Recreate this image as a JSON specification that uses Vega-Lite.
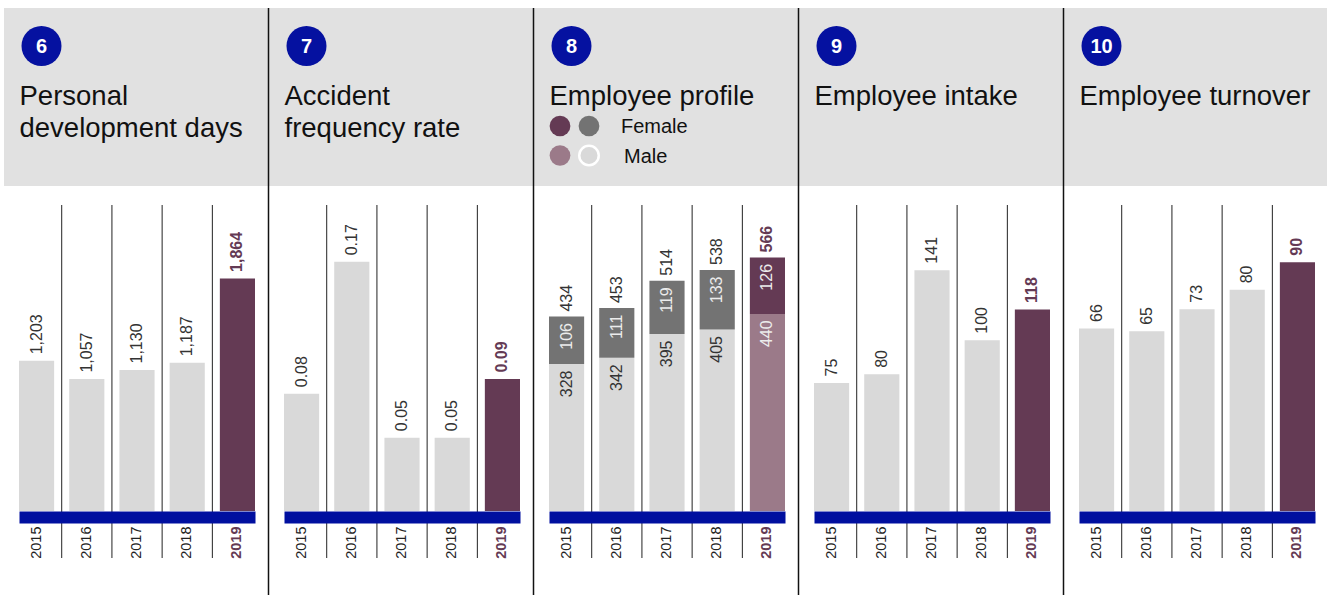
{
  "$schema": "https://vega.github.io/schema/vega-lite/v6.json",
  "background": "white",
  "padding": {"left": 3, "top": 0, "right": 0, "bottom": 0},
  "spacing": 0,
  "bounds": "flush",
  "config": {"view": {"stroke": null}, "font": "Liberation Sans", "text": {"font": "Liberation Sans"}},
  "hconcat": [
    {
      "width": 265, "height": 517,
      "resolve": {"axis": {"x": "independent"}},
      "data": {"values": [
        {"year": "2015", "value": 1203}, {"year": "2016", "value": 1057}, {"year": "2017", "value": 1130}, {"year": "2018", "value": 1187}, {"year": "2019", "value": 1864}
      ]},
      "layer": [
        {"data": {"values": [{}]}, "mark": {"type": "rect", "color": "#e1e1e1"}, "encoding": {"x": {"value": 1}, "x2": {"value": 265}, "y": {"value": 8}, "y2": {"value": 186}}},
        {"data": {"values": [{}]}, "mark": {"type": "point", "shape": "circle", "filled": true, "opacity": 1, "color": "#0511a0", "size": 1600, "strokeWidth": 0}, "encoding": {"x": {"value": 38.5}, "y": {"value": 46}}},
        {"data": {"values": [{}]}, "mark": {"type": "text", "color": "white", "fontSize": 20, "fontWeight": "bold", "align": "center", "baseline": "middle"}, "encoding": {"x": {"value": 38.5}, "y": {"value": 47}, "text": {"value": "6"}}},
        {"data": {"values": [{}]}, "mark": {"type": "text", "color": "#111111", "fontSize": 27.5, "align": "left", "baseline": "alphabetic", "lineHeight": 32}, "encoding": {"x": {"value": 16.5}, "y": {"value": 105}, "text": {"value": ["Personal", "development days"]}}},
        {"data": {"values": [{"year": "2016"}, {"year": "2017"}, {"year": "2018"}, {"year": "2019"}]}, "mark": {"type": "rule", "color": "#222222", "strokeWidth": 1, "xOffset": -7.5}, "encoding": {"x": {"field": "year", "type": "ordinal", "bandPosition": 0, "axis": null}, "y": {"value": 205}, "y2": {"value": 558}}},
        {"mark": {"type": "bar"}, "encoding": {
          "x": {"field": "year", "type": "ordinal", "scale": {"type": "band", "domain": ["2015", "2016", "2017", "2018", "2019"], "range": [16, 252], "paddingInner": 0.3, "paddingOuter": 0}, "axis": {"title": null, "domainColor": "#000f9f", "domainWidth": 12, "domainCap": "butt", "ticks": false, "tickSize": 0, "grid": false, "labelAngle": -90, "labelAlign": "right", "labelBaseline": "middle", "labelPadding": 9, "labelFontSize": 14.5, "labelFont": "Liberation Sans", "labelOverlap": false, "labelColor": {"condition": {"test": "datum.value == '2019'", "value": "#643a54"}, "value": "#222222"}, "labelFontWeight": {"condition": {"test": "datum.value == '2019'", "value": "bold"}, "value": "normal"}, "zindex": 1}},
          "y": {"field": "value", "type": "quantitative", "scale": {"domain": [-48.08, 4094.6], "nice": false, "zero": false}, "axis": null},
          "color": {"condition": {"test": "datum.year == '2019'", "value": "#643a54"}, "value": "#d9d9d9"}
        }},
        {"transform": [{"filter": "datum.year != '2019'"}], "mark": {"type": "text", "angle": -90, "align": "left", "baseline": "middle", "dx": 6.5, "fontSize": 16, "color": "#333333"}, "encoding": {"x": {"field": "year", "type": "ordinal", "axis": null}, "y": {"field": "value", "type": "quantitative", "axis": null}, "text": {"field": "value", "type": "quantitative", "format": ",.0f"}}},
        {"transform": [{"filter": "datum.year == '2019'"}], "mark": {"type": "text", "angle": -90, "align": "left", "baseline": "middle", "dx": 6.5, "fontSize": 16, "fontWeight": "bold", "color": "#643a54"}, "encoding": {"x": {"field": "year", "type": "ordinal", "axis": null}, "y": {"field": "value", "type": "quantitative", "axis": null}, "text": {"field": "value", "type": "quantitative", "format": ",.0f"}}}
      ]
    },
    {
      "width": 265, "height": 517,
      "resolve": {"axis": {"x": "independent"}},
      "data": {"values": [
        {"year": "2015", "value": 0.08}, {"year": "2016", "value": 0.17}, {"year": "2017", "value": 0.05}, {"year": "2018", "value": 0.05}, {"year": "2019", "value": 0.09}
      ]},
      "layer": [
        {"data": {"values": [{}]}, "mark": {"type": "rect", "color": "#e1e1e1"}, "encoding": {"x": {"value": 0}, "x2": {"value": 265}, "y": {"value": 8}, "y2": {"value": 186}}},
        {"data": {"values": [{}]}, "mark": {"type": "rule", "color": "#111111", "strokeWidth": 1.5}, "encoding": {"x": {"value": 0.5}, "y": {"value": 8}, "y2": {"value": 595}}},
        {"data": {"values": [{}]}, "mark": {"type": "point", "shape": "circle", "filled": true, "opacity": 1, "color": "#0511a0", "size": 1600, "strokeWidth": 0}, "encoding": {"x": {"value": 38.5}, "y": {"value": 46}}},
        {"data": {"values": [{}]}, "mark": {"type": "text", "color": "white", "fontSize": 20, "fontWeight": "bold", "align": "center", "baseline": "middle"}, "encoding": {"x": {"value": 38.5}, "y": {"value": 47}, "text": {"value": "7"}}},
        {"data": {"values": [{}]}, "mark": {"type": "text", "color": "#111111", "fontSize": 27.5, "align": "left", "baseline": "alphabetic", "lineHeight": 32}, "encoding": {"x": {"value": 16.5}, "y": {"value": 105}, "text": {"value": ["Accident", "frequency rate"]}}},
        {"data": {"values": [{"year": "2016"}, {"year": "2017"}, {"year": "2018"}, {"year": "2019"}]}, "mark": {"type": "rule", "color": "#222222", "strokeWidth": 1, "xOffset": -7.5}, "encoding": {"x": {"field": "year", "type": "ordinal", "bandPosition": 0, "axis": null}, "y": {"value": 205}, "y2": {"value": 558}}},
        {"mark": {"type": "bar"}, "encoding": {
          "x": {"field": "year", "type": "ordinal", "scale": {"type": "band", "domain": ["2015", "2016", "2017", "2018", "2019"], "range": [16, 252], "paddingInner": 0.3, "paddingOuter": 0}, "axis": {"title": null, "domainColor": "#000f9f", "domainWidth": 12, "domainCap": "butt", "ticks": false, "tickSize": 0, "grid": false, "labelAngle": -90, "labelAlign": "right", "labelBaseline": "middle", "labelPadding": 9, "labelFontSize": 14.5, "labelFont": "Liberation Sans", "labelOverlap": false, "labelColor": {"condition": {"test": "datum.value == '2019'", "value": "#643a54"}, "value": "#222222"}, "labelFontWeight": {"condition": {"test": "datum.value == '2019'", "value": "bold"}, "value": "normal"}, "zindex": 1}},
          "y": {"field": "value", "type": "quantitative", "scale": {"domain": [-0.004093, 0.34857], "nice": false, "zero": false}, "axis": null},
          "color": {"condition": {"test": "datum.year == '2019'", "value": "#643a54"}, "value": "#d9d9d9"}
        }},
        {"transform": [{"filter": "datum.year != '2019'"}], "mark": {"type": "text", "angle": -90, "align": "left", "baseline": "middle", "dx": 6.5, "fontSize": 16, "color": "#333333"}, "encoding": {"x": {"field": "year", "type": "ordinal", "axis": null}, "y": {"field": "value", "type": "quantitative", "axis": null}, "text": {"field": "value", "type": "quantitative", "format": ".2f"}}},
        {"transform": [{"filter": "datum.year == '2019'"}], "mark": {"type": "text", "angle": -90, "align": "left", "baseline": "middle", "dx": 6.5, "fontSize": 16, "fontWeight": "bold", "color": "#643a54"}, "encoding": {"x": {"field": "year", "type": "ordinal", "axis": null}, "y": {"field": "value", "type": "quantitative", "axis": null}, "text": {"field": "value", "type": "quantitative", "format": ".2f"}}}
      ]
    },
    {
      "width": 265, "height": 517,
      "resolve": {"axis": {"x": "independent"}},
      "data": {"values": [
        {"year": "2015", "sex": "Male", "value": 328}, {"year": "2015", "sex": "Female", "value": 106},
        {"year": "2016", "sex": "Male", "value": 342}, {"year": "2016", "sex": "Female", "value": 111},
        {"year": "2017", "sex": "Male", "value": 395}, {"year": "2017", "sex": "Female", "value": 119},
        {"year": "2018", "sex": "Male", "value": 405}, {"year": "2018", "sex": "Female", "value": 133},
        {"year": "2019", "sex": "Male", "value": 440}, {"year": "2019", "sex": "Female", "value": 126}
      ]},
      "layer": [
        {"data": {"values": [{}]}, "mark": {"type": "rect", "color": "#e1e1e1"}, "encoding": {"x": {"value": 0}, "x2": {"value": 265}, "y": {"value": 8}, "y2": {"value": 186}}},
        {"data": {"values": [{}]}, "mark": {"type": "rule", "color": "#111111", "strokeWidth": 1.5}, "encoding": {"x": {"value": 0.5}, "y": {"value": 8}, "y2": {"value": 595}}},
        {"data": {"values": [{}]}, "mark": {"type": "point", "shape": "circle", "filled": true, "opacity": 1, "color": "#0511a0", "size": 1600, "strokeWidth": 0}, "encoding": {"x": {"value": 38.5}, "y": {"value": 46}}},
        {"data": {"values": [{}]}, "mark": {"type": "text", "color": "white", "fontSize": 20, "fontWeight": "bold", "align": "center", "baseline": "middle"}, "encoding": {"x": {"value": 38.5}, "y": {"value": 47}, "text": {"value": "8"}}},
        {"data": {"values": [{}]}, "mark": {"type": "text", "color": "#111111", "fontSize": 27.5, "align": "left", "baseline": "alphabetic"}, "encoding": {"x": {"value": 16.5}, "y": {"value": 105}, "text": {"value": "Employee profile"}}},
        {"data": {"values": [{}]}, "mark": {"type": "point", "shape": "circle", "filled": true, "opacity": 1, "color": "#643a54", "size": 430, "strokeWidth": 0}, "encoding": {"x": {"value": 27}, "y": {"value": 126}}},
        {"data": {"values": [{}]}, "mark": {"type": "point", "shape": "circle", "filled": true, "opacity": 1, "color": "#737373", "size": 430, "strokeWidth": 0}, "encoding": {"x": {"value": 56}, "y": {"value": 126}}},
        {"data": {"values": [{}]}, "mark": {"type": "point", "shape": "circle", "filled": true, "opacity": 1, "color": "#9b7a89", "size": 430, "strokeWidth": 0}, "encoding": {"x": {"value": 27}, "y": {"value": 155.5}}},
        {"data": {"values": [{}]}, "mark": {"type": "point", "shape": "circle", "filled": true, "opacity": 1, "fill": "#d9d9d9", "stroke": "white", "size": 380, "strokeWidth": 2.5}, "encoding": {"x": {"value": 56}, "y": {"value": 155.5}}},
        {"data": {"values": [{}]}, "mark": {"type": "text", "color": "#111111", "fontSize": 20, "align": "left", "baseline": "middle"}, "encoding": {"x": {"value": 88}, "y": {"value": 127}, "text": {"value": "Female"}}},
        {"data": {"values": [{}]}, "mark": {"type": "text", "color": "#111111", "fontSize": 20, "align": "left", "baseline": "middle"}, "encoding": {"x": {"value": 91}, "y": {"value": 157}, "text": {"value": "Male"}}},
        {"data": {"values": [{"year": "2016"}, {"year": "2017"}, {"year": "2018"}, {"year": "2019"}]}, "mark": {"type": "rule", "color": "#222222", "strokeWidth": 1, "xOffset": -7.5}, "encoding": {"x": {"field": "year", "type": "ordinal", "bandPosition": 0, "axis": null}, "y": {"value": 205}, "y2": {"value": 558}}},
        {"transform": [{"stack": "value", "groupby": ["year"], "sort": [{"field": "sex", "order": "descending"}], "as": ["v0", "v1"]}],
         "mark": {"type": "bar"}, "encoding": {
          "x": {"field": "year", "type": "ordinal", "scale": {"type": "band", "domain": ["2015", "2016", "2017", "2018", "2019"], "range": [16, 252], "paddingInner": 0.3, "paddingOuter": 0}, "axis": {"title": null, "domainColor": "#000f9f", "domainWidth": 12, "domainCap": "butt", "ticks": false, "tickSize": 0, "grid": false, "labelAngle": -90, "labelAlign": "right", "labelBaseline": "middle", "labelPadding": 9, "labelFontSize": 14.5, "labelFont": "Liberation Sans", "labelOverlap": false, "labelColor": {"condition": {"test": "datum.value == '2019'", "value": "#643a54"}, "value": "#222222"}, "labelFontWeight": {"condition": {"test": "datum.value == '2019'", "value": "bold"}, "value": "normal"}, "zindex": 1}},
          "y": {"field": "v1", "type": "quantitative", "scale": {"domain": [-13.39, 1140.6], "nice": false, "zero": false}, "axis": null},
          "y2": {"field": "v0"},
          "color": {"condition": [
            {"test": "datum.year == '2019' && datum.sex == 'Female'", "value": "#643a54"},
            {"test": "datum.year == '2019'", "value": "#9b7a89"},
            {"test": "datum.sex == 'Female'", "value": "#737373"}
          ], "value": "#d9d9d9"}
        }},
        {"transform": [{"stack": "value", "groupby": ["year"], "sort": [{"field": "sex", "order": "descending"}], "as": ["v0", "v1"]}],
         "mark": {"type": "text", "angle": -90, "align": "right", "baseline": "middle", "dx": -6.5, "fontSize": 16},
         "encoding": {
          "x": {"field": "year", "type": "ordinal", "axis": null},
          "y": {"field": "v1", "type": "quantitative", "axis": null},
          "text": {"field": "value", "type": "quantitative"},
          "color": {"condition": {"test": "datum.sex == 'Female' || datum.year == '2019'", "value": "#ececec"}, "value": "#333333"}
        }},
        {"transform": [{"aggregate": [{"op": "sum", "field": "value", "as": "total"}], "groupby": ["year"]}, {"filter": "datum.year != '2019'"}],
         "mark": {"type": "text", "angle": -90, "align": "left", "baseline": "middle", "dx": 5, "fontSize": 16, "color": "#333333"},
         "encoding": {"x": {"field": "year", "type": "ordinal", "axis": null}, "y": {"field": "total", "type": "quantitative", "axis": null}, "text": {"field": "total", "type": "quantitative"}}},
        {"transform": [{"aggregate": [{"op": "sum", "field": "value", "as": "total"}], "groupby": ["year"]}, {"filter": "datum.year == '2019'"}],
         "mark": {"type": "text", "angle": -90, "align": "left", "baseline": "middle", "dx": 5, "fontSize": 16, "fontWeight": "bold", "color": "#643a54"},
         "encoding": {"x": {"field": "year", "type": "ordinal", "axis": null}, "y": {"field": "total", "type": "quantitative", "axis": null}, "text": {"field": "total", "type": "quantitative"}}}
      ]
    },
    {
      "width": 265, "height": 517,
      "resolve": {"axis": {"x": "independent"}},
      "data": {"values": [
        {"year": "2015", "value": 75}, {"year": "2016", "value": 80}, {"year": "2017", "value": 141}, {"year": "2018", "value": 100}, {"year": "2019", "value": 118}
      ]},
      "layer": [
        {"data": {"values": [{}]}, "mark": {"type": "rect", "color": "#e1e1e1"}, "encoding": {"x": {"value": 0}, "x2": {"value": 265}, "y": {"value": 8}, "y2": {"value": 186}}},
        {"data": {"values": [{}]}, "mark": {"type": "rule", "color": "#111111", "strokeWidth": 1.5}, "encoding": {"x": {"value": 0.5}, "y": {"value": 8}, "y2": {"value": 595}}},
        {"data": {"values": [{}]}, "mark": {"type": "point", "shape": "circle", "filled": true, "opacity": 1, "color": "#0511a0", "size": 1600, "strokeWidth": 0}, "encoding": {"x": {"value": 38.5}, "y": {"value": 46}}},
        {"data": {"values": [{}]}, "mark": {"type": "text", "color": "white", "fontSize": 20, "fontWeight": "bold", "align": "center", "baseline": "middle"}, "encoding": {"x": {"value": 38.5}, "y": {"value": 47}, "text": {"value": "9"}}},
        {"data": {"values": [{}]}, "mark": {"type": "text", "color": "#111111", "fontSize": 27.5, "align": "left", "baseline": "alphabetic"}, "encoding": {"x": {"value": 16.5}, "y": {"value": 105}, "text": {"value": "Employee intake"}}},
        {"data": {"values": [{"year": "2016"}, {"year": "2017"}, {"year": "2018"}, {"year": "2019"}]}, "mark": {"type": "rule", "color": "#222222", "strokeWidth": 1, "xOffset": -7.5}, "encoding": {"x": {"field": "year", "type": "ordinal", "bandPosition": 0, "axis": null}, "y": {"value": 205}, "y2": {"value": 558}}},
        {"mark": {"type": "bar"}, "encoding": {
          "x": {"field": "year", "type": "ordinal", "scale": {"type": "band", "domain": ["2015", "2016", "2017", "2018", "2019"], "range": [16, 252], "paddingInner": 0.3, "paddingOuter": 0}, "axis": {"title": null, "domainColor": "#000f9f", "domainWidth": 12, "domainCap": "butt", "ticks": false, "tickSize": 0, "grid": false, "labelAngle": -90, "labelAlign": "right", "labelBaseline": "middle", "labelPadding": 9, "labelFontSize": 14.5, "labelFont": "Liberation Sans", "labelOverlap": false, "labelColor": {"condition": {"test": "datum.value == '2019'", "value": "#643a54"}, "value": "#222222"}, "labelFontWeight": {"condition": {"test": "datum.value == '2019'", "value": "bold"}, "value": "normal"}, "zindex": 1}},
          "y": {"field": "value", "type": "quantitative", "scale": {"domain": [-3.513, 299.18], "nice": false, "zero": false}, "axis": null},
          "color": {"condition": {"test": "datum.year == '2019'", "value": "#643a54"}, "value": "#d9d9d9"}
        }},
        {"transform": [{"filter": "datum.year != '2019'"}], "mark": {"type": "text", "angle": -90, "align": "left", "baseline": "middle", "dx": 6.5, "fontSize": 16, "color": "#333333"}, "encoding": {"x": {"field": "year", "type": "ordinal", "axis": null}, "y": {"field": "value", "type": "quantitative", "axis": null}, "text": {"field": "value", "type": "quantitative"}}},
        {"transform": [{"filter": "datum.year == '2019'"}], "mark": {"type": "text", "angle": -90, "align": "left", "baseline": "middle", "dx": 6.5, "fontSize": 16, "fontWeight": "bold", "color": "#643a54"}, "encoding": {"x": {"field": "year", "type": "ordinal", "axis": null}, "y": {"field": "value", "type": "quantitative", "axis": null}, "text": {"field": "value", "type": "quantitative"}}}
      ]
    },
    {
      "width": 265, "height": 517,
      "resolve": {"axis": {"x": "independent"}},
      "data": {"values": [
        {"year": "2015", "value": 66}, {"year": "2016", "value": 65}, {"year": "2017", "value": 73}, {"year": "2018", "value": 80}, {"year": "2019", "value": 90}
      ]},
      "layer": [
        {"data": {"values": [{}]}, "mark": {"type": "rect", "color": "#e1e1e1"}, "encoding": {"x": {"value": 0}, "x2": {"value": 264}, "y": {"value": 8}, "y2": {"value": 186}}},
        {"data": {"values": [{}]}, "mark": {"type": "rule", "color": "#111111", "strokeWidth": 1.5}, "encoding": {"x": {"value": 0.5}, "y": {"value": 8}, "y2": {"value": 595}}},
        {"data": {"values": [{}]}, "mark": {"type": "point", "shape": "circle", "filled": true, "opacity": 1, "color": "#0511a0", "size": 1600, "strokeWidth": 0}, "encoding": {"x": {"value": 38.5}, "y": {"value": 46}}},
        {"data": {"values": [{}]}, "mark": {"type": "text", "color": "white", "fontSize": 20, "fontWeight": "bold", "align": "center", "baseline": "middle"}, "encoding": {"x": {"value": 38.5}, "y": {"value": 47}, "text": {"value": "10"}}},
        {"data": {"values": [{}]}, "mark": {"type": "text", "color": "#111111", "fontSize": 27.5, "align": "left", "baseline": "alphabetic"}, "encoding": {"x": {"value": 16.5}, "y": {"value": 105}, "text": {"value": "Employee turnover"}}},
        {"data": {"values": [{"year": "2016"}, {"year": "2017"}, {"year": "2018"}, {"year": "2019"}]}, "mark": {"type": "rule", "color": "#222222", "strokeWidth": 1, "xOffset": -7.5}, "encoding": {"x": {"field": "year", "type": "ordinal", "bandPosition": 0, "axis": null}, "y": {"value": 205}, "y2": {"value": 558}}},
        {"mark": {"type": "bar"}, "encoding": {
          "x": {"field": "year", "type": "ordinal", "scale": {"type": "band", "domain": ["2015", "2016", "2017", "2018", "2019"], "range": [16, 252], "paddingInner": 0.3, "paddingOuter": 0}, "axis": {"title": null, "domainColor": "#000f9f", "domainWidth": 12, "domainCap": "butt", "ticks": false, "tickSize": 0, "grid": false, "labelAngle": -90, "labelAlign": "right", "labelBaseline": "middle", "labelPadding": 9, "labelFontSize": 14.5, "labelFont": "Liberation Sans", "labelOverlap": false, "labelColor": {"condition": {"test": "datum.value == '2019'", "value": "#643a54"}, "value": "#222222"}, "labelFontWeight": {"condition": {"test": "datum.value == '2019'", "value": "bold"}, "value": "normal"}, "zindex": 1}},
          "y": {"field": "value", "type": "quantitative", "scale": {"domain": [-2.17, 184.81], "nice": false, "zero": false}, "axis": null},
          "color": {"condition": {"test": "datum.year == '2019'", "value": "#643a54"}, "value": "#d9d9d9"}
        }},
        {"transform": [{"filter": "datum.year != '2019'"}], "mark": {"type": "text", "angle": -90, "align": "left", "baseline": "middle", "dx": 6.5, "fontSize": 16, "color": "#333333"}, "encoding": {"x": {"field": "year", "type": "ordinal", "axis": null}, "y": {"field": "value", "type": "quantitative", "axis": null}, "text": {"field": "value", "type": "quantitative"}}},
        {"transform": [{"filter": "datum.year == '2019'"}], "mark": {"type": "text", "angle": -90, "align": "left", "baseline": "middle", "dx": 6.5, "fontSize": 16, "fontWeight": "bold", "color": "#643a54"}, "encoding": {"x": {"field": "year", "type": "ordinal", "axis": null}, "y": {"field": "value", "type": "quantitative", "axis": null}, "text": {"field": "value", "type": "quantitative"}}}
      ]
    }
  ]
}
